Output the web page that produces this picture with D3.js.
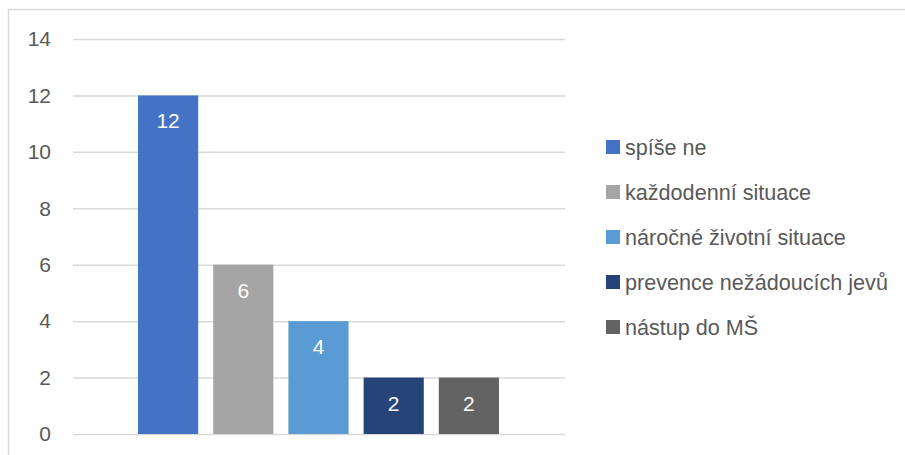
<!DOCTYPE html>
<html><head><meta charset="utf-8">
<script src="https://cdn.jsdelivr.net/npm/d3@7"></script>
<style>body{margin:0;background:#fff}svg{display:block}text{font-family:"Liberation Sans",Arial,sans-serif}</style>
</head><body>
<svg id="c" width="905" height="455"></svg>
<script>
const series = ["spíše ne","každodenní situace","náročné životní situace","prevence nežádoucích jevů","nástup do MŠ"];
const values = [12,6,4,2,2];
const colors = ["#4472C4","#A5A5A5","#5B9BD5","#264478","#636363"];
const yTicks = [0,2,4,6,8,10,12,14];

const svg = d3.select("#c");
svg.append("rect").attr("x",8.5).attr("y",9.5).attr("width",1000).attr("height",500)
  .attr("fill","#fff").attr("stroke","#D9D9D9").attr("stroke-width",1.5);

const plot = {left:73, right:565, top:39, bottom:434};
const y = d3.scaleLinear().domain([0,14]).range([plot.bottom, plot.top]);
const x = d3.scaleBand().domain(series).range([138-7.5, 499+7.5]).paddingInner(0.2).paddingOuter(0.1);

const yAxis = svg.append("g").attr("transform",`translate(${plot.left},0)`)
  .call(d3.axisLeft(y).tickValues(yTicks).tickSize(-(plot.right-plot.left)).tickPadding(22));
yAxis.select(".domain").remove();
yAxis.selectAll(".tick line").attr("stroke","#D9D9D9").attr("stroke-width",1.5);
yAxis.selectAll(".tick text").attr("fill","#595959").attr("font-size",21).attr("font-family","Liberation Sans, Arial, sans-serif");

svg.append("g").selectAll("rect").data(series).join("rect")
  .attr("x",d=>x(d)).attr("width",x.bandwidth())
  .attr("y",(d,i)=>y(values[i])).attr("height",(d,i)=>y(0)-y(values[i]))
  .attr("fill",(d,i)=>colors[i]);

svg.append("g").selectAll("text").data(series).join("text")
  .attr("x",d=>x(d)+x.bandwidth()/2).attr("y",(d,i)=>y(values[i])+33)
  .attr("text-anchor","middle").attr("fill","#fff").attr("font-size",21)
  .text((d,i)=>values[i]);

const lg = svg.append("g").attr("transform","translate(606,0)");
const ly = d3.scalePoint().domain(series).range([147,327]);
series.forEach((s,i)=>{
  lg.append("rect").attr("x",0).attr("y",ly(s)-7).attr("width",14).attr("height",14).attr("fill",colors[i]);
  lg.append("text").attr("x",19).attr("y",ly(s)+8).attr("fill","#595959").attr("font-size",21.6).text(s);
});
</script>
</body></html>
